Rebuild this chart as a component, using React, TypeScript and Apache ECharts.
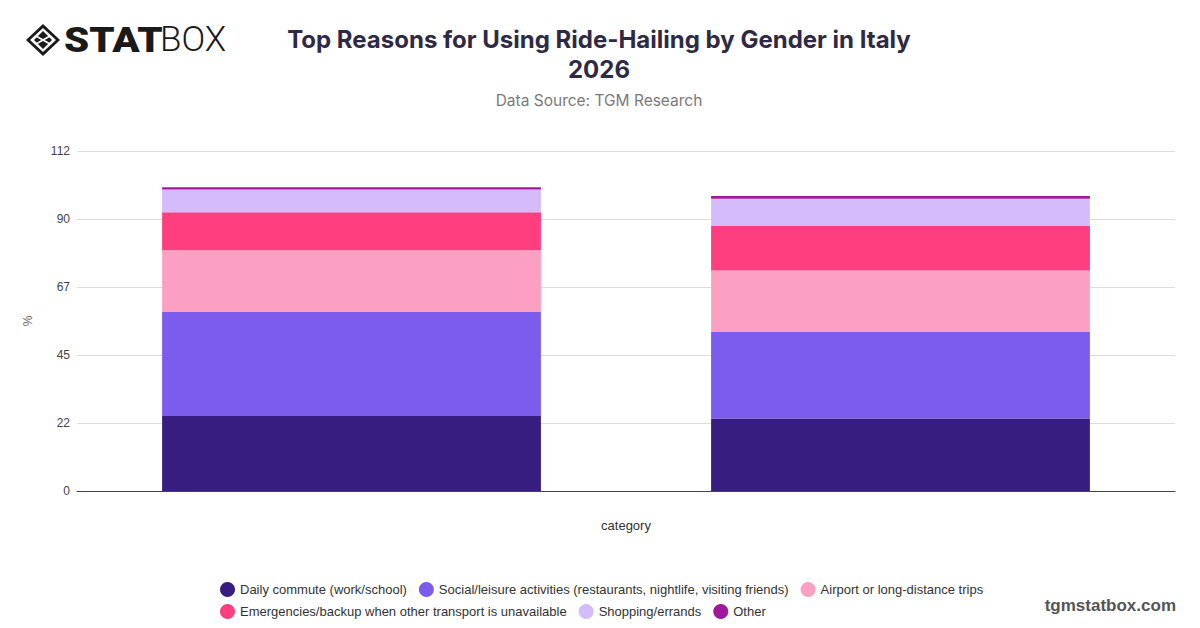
import React, { useEffect, useRef } from "react";
import * as echarts from "echarts";

const categories = ["Male", "Female"];
const seriesNames = [
  "Daily commute (work/school)",
  "Social/leisure activities (restaurants, nightlife, visiting friends)",
  "Airport or long-distance trips",
  "Emergencies/backup when other transport is unavailable",
  "Shopping/errands",
  "Other",
];
const dailyCommute = [24.7, 23.9];
const socialLeisure = [34.3, 28.5];
const airportTrips = [20.3, 20.2];
const emergencies = [12.5, 14.7];
const shoppingErrands = [7.5, 9.0];
const other = [0.8, 0.9];
const colors = ["#371d80", "#7c5cec", "#fba0c2", "#ff3e80", "#d4bcfb", "#a0189b"];
const yTicks = { min: 0, max: 112, interval: 22.4 };

export default function App() {
  const ref = useRef<HTMLDivElement>(null);
  useEffect(() => {
    if (!ref.current) return;
    const chart = echarts.init(ref.current, null, { renderer: "svg" });
    const values = [dailyCommute, socialLeisure, airportTrips, emergencies, shoppingErrands, other];
    const font = "'Liberation Sans', Arial, sans-serif";
    const legendBase = {
      left: 215,
      itemWidth: 15,
      itemHeight: 15,
      itemGap: 12,
      icon: "circle",
      textStyle: { fontFamily: font, fontSize: 13, color: "#333" },
    };
    chart.setOption({
      animation: false,
      backgroundColor: "#ffffff",
      color: colors,
      title: {
        text: "Top Reasons for Using Ride-Hailing by Gender in Italy\n2026",
        subtext: "Data Source: TGM Research",
        left: 594,
        textAlign: "center",
        top: 19,
        itemGap: 8,
        textStyle: {
          fontFamily: "Inter, sans-serif",
          fontWeight: "bold",
          fontSize: 24,
          lineHeight: 30,
          color: "#2e2a45",
        },
        subtextStyle: {
          fontFamily: "Inter, sans-serif",
          fontSize: 15.5,
          color: "#7a7a7a",
        },
      },
      grid: { left: 77, right: 25, top: 151, bottom: 137 },
      legend: [
        { ...legendBase, top: 577, data: seriesNames.slice(0, 3) },
        { ...legendBase, top: 599, data: seriesNames.slice(3) },
      ],
      xAxis: {
        type: "category",
        data: categories,
        name: "category",
        nameLocation: "middle",
        nameGap: 28,
        nameTextStyle: { fontFamily: font, fontSize: 13, color: "#333" },
        axisLabel: { show: false },
        axisTick: { show: false },
        axisLine: { lineStyle: { color: "#444", width: 1 } },
      },
      yAxis: {
        type: "value",
        min: yTicks.min,
        max: yTicks.max,
        interval: yTicks.interval,
        name: "%",
        nameLocation: "middle",
        nameGap: 43,
        nameTextStyle: { fontFamily: font, fontSize: 12, color: "#666" },
        axisLabel: {
          fontFamily: font,
          fontSize: 12,
          color: "#444",
          margin: 7,
          formatter: (v: number) => String(Math.round(v)),
        },
        splitLine: { lineStyle: { color: "#dddddd" } },
        axisLine: { show: false },
        axisTick: { show: false },
      },
      series: seriesNames.map((name, i) => ({
        name,
        type: "bar",
        stack: "total",
        barWidth: "69%",
        data: values[i],
        itemStyle: { color: colors[i] },
      })),
      graphic: [
        { type: "polygon", shape: { points: [[43, 24], [60, 40], [43, 56], [26, 40]] }, style: { fill: "#1a1a1a" } },
        { type: "polygon", shape: { points: [[43, 28], [56, 40], [43, 52], [30, 40]] }, style: { fill: "#ffffff" } },
        { type: "polygon", shape: { points: [[43, 31], [52, 40], [43, 49], [34, 40]] }, style: { fill: "#1a1a1a" } },
        { type: "line", shape: { x1: 36, y1: 36, x2: 50, y2: 44 }, style: { stroke: "#ffffff", lineWidth: 1.5 } },
        { type: "line", shape: { x1: 36, y1: 44, x2: 50, y2: 36 }, style: { stroke: "#ffffff", lineWidth: 1.5 } },
        {
          type: "text",
          x: 64,
          y: 22,
          scaleX: 1.15,
          style: { text: "STAT", fontFamily: "Roboto, sans-serif", fontWeight: 900, fontSize: 35, fill: "#1a1a1a" },
        },
        {
          type: "text",
          x: 160,
          y: 22,
          style: { text: "BOX", fontFamily: "Roboto, sans-serif", fontWeight: 300, fontSize: 35, fill: "#1a1a1a" },
        },
        {
          type: "text",
          right: 24,
          top: 597,
          style: { text: "tgmstatbox.com", fontFamily: font, fontWeight: "bold", fontSize: 17, fill: "#555" },
        },
      ],
    });
    return () => chart.dispose();
  }, []);
  return <div ref={ref} style={{ position: "fixed", left: 0, top: 0, width: 1200, height: 628 }} />;
}
